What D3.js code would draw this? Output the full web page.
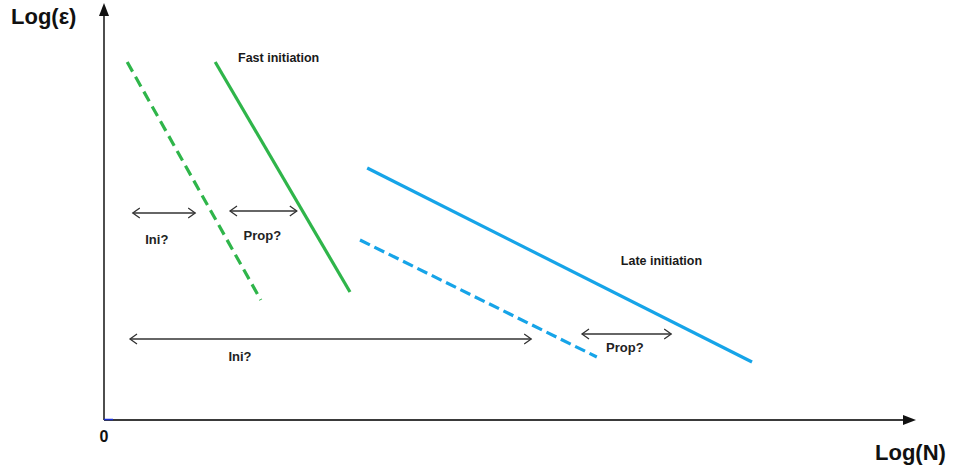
<!DOCTYPE html>
<html>
<head>
<meta charset="utf-8">
<script src="https://cdn.jsdelivr.net/npm/d3@7"></script>
<style>
  body { margin: 0; background: #fff; }
  svg { display: block; font-family: 'Liberation Sans', Arial, sans-serif; }
</style>
</head>
<body>
<div id="chart"></div>
<script>
// Data (schematic units: logN 0..100, logE 0..100)
const fastDashed = [[2.9, 89.5], [19.6, 30]]
const fastSolid = [[13.9, 89.5], [30.75, 32]]
const lateSolid = [[32.9, 63], [81, 14.5]]
const lateDashed = [[32, 45], [61.6, 15.75]]

const spanArrows = [
  { x0: 3.6, x1: 11.4, y: 51.75, label: 'Ini?', lx: 6.6, ly: 44 },
  { x0: 15.75, x1: 24.1, y: 52.25, label: 'Prop?', lx: 19.8, ly: 45 },
  { x0: 3.25, x1: 53.4, y: 20.25, label: 'Ini?', lx: 17, ly: 14.75 },
  { x0: 59.75, x1: 70.9, y: 21.5, label: 'Prop?', lx: 65.1, ly: 17 },
]

const curveLabels = [
  { text: 'Fast initiation', x: 16.75, y: 89.5 },
  { text: 'Late initiation', x: 64.6, y: 38.8 },
]

async function draw() {
  // Dimensions
  const dimensions = { width: 958, height: 465 }
  const origin = { x: 104, y: 420 }

  const svg = d3
    .select('#chart')
    .append('svg')
    .attr('width', dimensions.width)
    .attr('height', dimensions.height)

  // Scales
  const xScale = d3.scaleLinear().domain([0, 100]).range([origin.x, origin.x + 800])
  const yScale = d3.scaleLinear().domain([0, 100]).range([origin.y, origin.y - 400])

  const lineGenerator = d3
    .line()
    .x((d) => xScale(d[0]))
    .y((d) => yScale(d[1]))

  const green = '#2fb54a'
  const blue = '#16a4e8'
  const ink = '#333'

  // Axes
  const axisColor = '#3a3a3a'
  svg.append('line')
    .attr('x1', origin.x).attr('y1', origin.y)
    .attr('x2', origin.x).attr('y2', 14)
    .attr('stroke', axisColor).attr('stroke-width', 1.8)
  svg.append('path')
    .attr('d', `M${origin.x},3 L${origin.x - 5},16 L${origin.x + 5},16 Z`)
    .attr('fill', '#111')
  svg.append('line')
    .attr('x1', origin.x).attr('y1', origin.y)
    .attr('x2', 904).attr('y2', origin.y)
    .attr('stroke', axisColor).attr('stroke-width', 2.2)
  svg.append('path')
    .attr('d', `M916,${origin.y} L903,${origin.y - 5} L903,${origin.y + 5} Z`)
    .attr('fill', '#111')
  // small blue mark at origin
  svg.append('line')
    .attr('x1', origin.x).attr('y1', origin.y - 0.5)
    .attr('x2', origin.x + 9).attr('y2', origin.y - 0.5)
    .attr('stroke', '#1a2fd6').attr('stroke-width', 1.5)

  svg.append('text')
    .attr('x', 11).attr('y', 24)
    .attr('font-size', 22).attr('font-weight', 'bold').attr('fill', '#111')
    .text('Log(ε)')
  svg.append('text')
    .attr('x', 875).attr('y', 460)
    .attr('font-size', 22).attr('font-weight', 'bold').attr('fill', '#111')
    .text('Log(N)')
  svg.append('text')
    .attr('x', origin.x).attr('y', 442)
    .attr('text-anchor', 'middle')
    .attr('font-size', 16).attr('font-weight', 'bold').attr('fill', '#111')
    .text('0')

  // Curves
  const curves = [
    { data: fastDashed, color: green, dash: '11 6' },
    { data: fastSolid, color: green, dash: null },
    { data: lateSolid, color: blue, dash: null },
    { data: lateDashed, color: blue, dash: '11 5' },
  ]
  svg.selectAll('.curve')
    .data(curves)
    .join('path')
    .attr('class', 'curve')
    .attr('d', (d) => lineGenerator(d.data))
    .attr('fill', 'none')
    .attr('stroke', (d) => d.color)
    .attr('stroke-width', 3.2)
    .attr('stroke-dasharray', (d) => d.dash)

  // Double-headed arrows
  const arrowHead = (x, y, dir) =>
    `M${x + dir * 7},${y - 5} L${x},${y} L${x + dir * 7},${y + 5}`

  const arrows = svg.selectAll('.span').data(spanArrows).join('g').attr('class', 'span')
  arrows.append('line')
    .attr('x1', (d) => xScale(d.x0)).attr('x2', (d) => xScale(d.x1))
    .attr('y1', (d) => yScale(d.y)).attr('y2', (d) => yScale(d.y))
    .attr('stroke', ink).attr('stroke-width', 1.5)
  arrows.append('path')
    .attr('d', (d) =>
      arrowHead(xScale(d.x0), yScale(d.y), 1) + ' ' + arrowHead(xScale(d.x1), yScale(d.y), -1))
    .attr('fill', 'none').attr('stroke', ink).attr('stroke-width', 1.3)
  arrows.append('text')
    .attr('x', (d) => xScale(d.lx)).attr('y', (d) => yScale(d.ly))
    .attr('text-anchor', 'middle')
    .attr('font-size', 13).attr('font-weight', 'bold').attr('fill', '#222')
    .text((d) => d.label)

  svg.selectAll('.curve-label')
    .data(curveLabels)
    .join('text')
    .attr('class', 'curve-label')
    .attr('x', (d) => xScale(d.x)).attr('y', (d) => yScale(d.y))
    .attr('font-size', 12.5).attr('font-weight', 'bold').attr('fill', '#1a1a1a')
    .text((d) => d.text)
}

draw()
</script>
</body>
</html>
